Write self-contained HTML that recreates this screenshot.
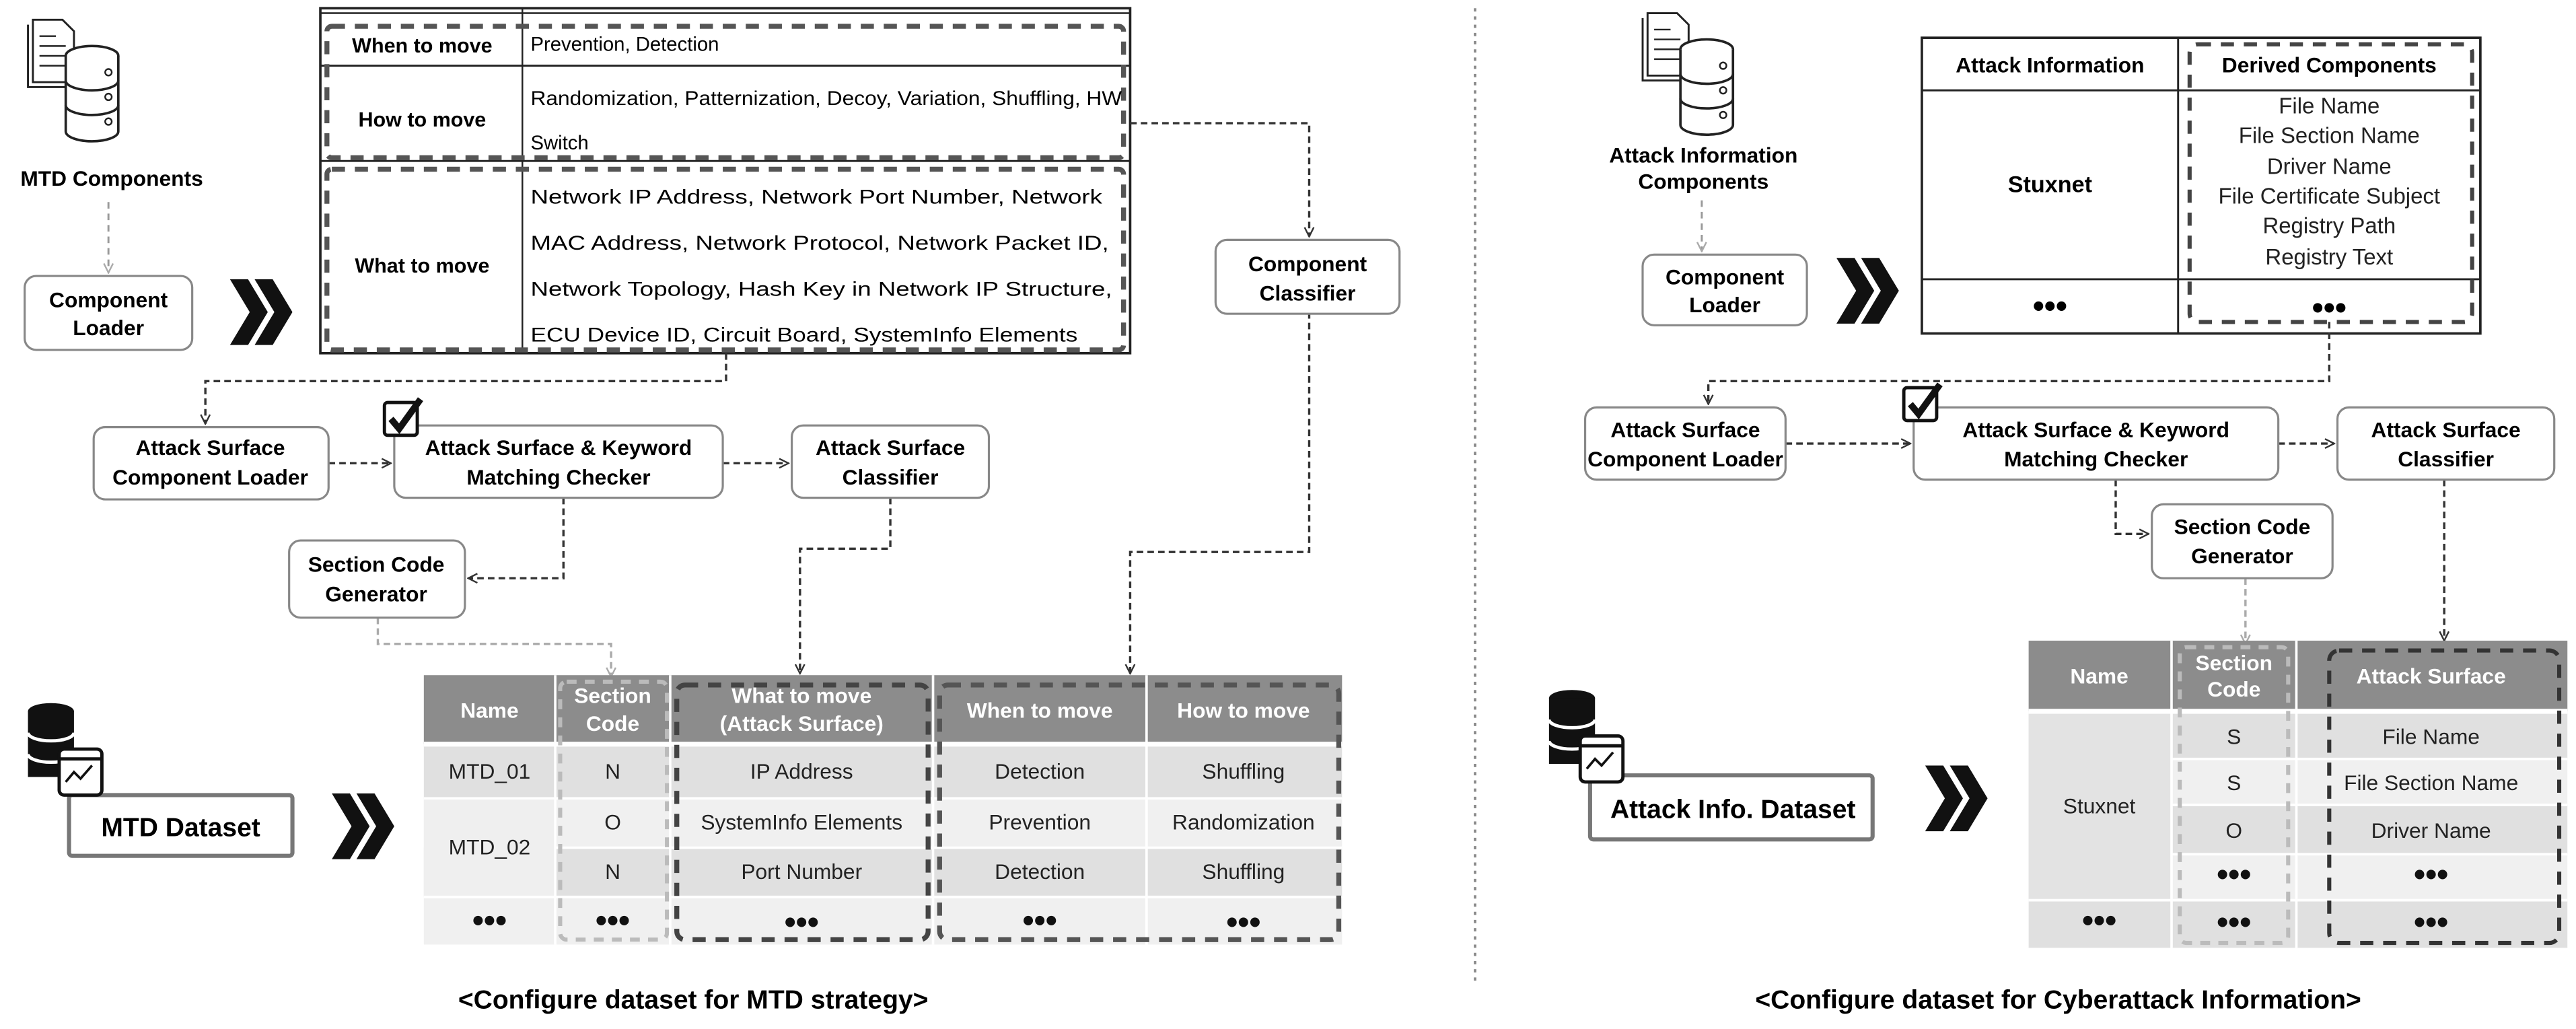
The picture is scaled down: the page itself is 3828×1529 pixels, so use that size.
<!DOCTYPE html>
<html><head><meta charset="utf-8"><style>
html,body{margin:0;padding:0;background:#fff;}
svg{display:block;}
text{font-family:"Liberation Sans",sans-serif;}
.b{font-weight:bold;}
</style></head><body>
<svg width="3828" height="1529" viewBox="0 0 1568.2 626.4" xmlns="http://www.w3.org/2000/svg">
<defs>
<marker id="ar" viewBox="0 0 10 10" refX="9" refY="5" markerWidth="7" markerHeight="7" orient="auto" markerUnits="userSpaceOnUse"><path d="M1,1 L9,5 L1,9" fill="none" stroke="#333" stroke-width="1.4"/></marker>
<marker id="arl" viewBox="0 0 10 10" refX="9" refY="5" markerWidth="7" markerHeight="7" orient="auto" markerUnits="userSpaceOnUse"><path d="M1,1 L9,5 L1,9" fill="none" stroke="#aaa" stroke-width="1.4"/></marker>
<g id="chev"><path d="M0,0 L11,0 L23,20 L11,40 L0,40 L12,20 Z" fill="#111"/><path d="M15,0 L26,0 L38,20 L26,40 L15,40 L27,20 Z" fill="#111"/></g>
<g id="docdb">
<path d="M0,0 L18,0 L25,7 L25,38 L0,38 Z" fill="#fff" stroke="#222" stroke-width="1.2"/>
<path d="M-3,3 L-3,41 L22,41" fill="none" stroke="#222" stroke-width="1.2"/>
<line x1="4" y1="10" x2="14" y2="10" stroke="#222"/><line x1="4" y1="16" x2="20" y2="16" stroke="#222"/><line x1="4" y1="22" x2="20" y2="22" stroke="#222"/><line x1="4" y1="28" x2="20" y2="28" stroke="#222"/>
<ellipse cx="36" cy="22" rx="16" ry="6" fill="#fff" stroke="#222" stroke-width="1.5"/>
<path d="M20,22 L20,68 A16,6 0 0 0 52,68 L52,22" fill="#fff" stroke="#222" stroke-width="1.5"/>
<path d="M20,37 A16,6 0 0 0 52,37 M20,52 A16,6 0 0 0 52,52" fill="none" stroke="#222" stroke-width="1.5"/>
<circle cx="46" cy="32" r="2" fill="none" stroke="#222"/><circle cx="46" cy="47" r="2" fill="none" stroke="#222"/><circle cx="46" cy="62" r="2" fill="none" stroke="#222"/>
</g>
<g id="dsicon">
<ellipse cx="15" cy="5" rx="14" ry="5" fill="#111"/>
<rect x="1" y="5" width="28" height="40" fill="#111"/>
<path d="M1,18 A14,5 0 0 0 29,18 M1,31 A14,5 0 0 0 29,31" fill="none" stroke="#fff" stroke-width="2"/>
</g>
<g id="chk"><rect x="0" y="0" width="20" height="20" rx="2" fill="#fff" stroke="#111" stroke-width="2"/><path d="M4,10 L9,16 L22,-2" fill="none" stroke="#111" stroke-width="4"/></g>
</defs>

<line x1="898" y1="5" x2="898" y2="600" stroke="#888" stroke-width="1.5" stroke-dasharray="2 3"/>

<!-- ============ LEFT ============ -->
<use href="#docdb" x="20" y="12"/>
<text x="68" y="113" font-size="13" class="b" text-anchor="middle">MTD Components</text>
<line x1="66" y1="123" x2="66" y2="166" stroke="#999" stroke-width="1.2" stroke-dasharray="4 3" marker-end="url(#arl)"/>
<rect x="15" y="168" width="102" height="45" rx="7" fill="#fff" stroke="#888" stroke-width="1.3"/>
<text x="66" y="187" font-size="13" class="b" text-anchor="middle">Component</text>
<text x="66" y="204" font-size="13" class="b" text-anchor="middle">Loader</text>
<use href="#chev" x="140" y="170"/>

<rect x="195" y="5" width="493" height="210" fill="#fff" stroke="#222" stroke-width="1.5"/>
<line x1="195" y1="8" x2="688" y2="8" stroke="#222" stroke-width="1"/>
<line x1="318" y1="5" x2="318" y2="215" stroke="#222" stroke-width="1"/>
<line x1="195" y1="40" x2="688" y2="40" stroke="#222" stroke-width="1.2"/>
<line x1="195" y1="98" x2="688" y2="98" stroke="#222" stroke-width="1.2"/>
<rect x="199" y="16" width="485" height="80" rx="3" fill="none" stroke="#555" stroke-width="3" stroke-dasharray="8 6"/>
<rect x="199" y="103" width="485" height="110" rx="3" fill="none" stroke="#555" stroke-width="3" stroke-dasharray="8 6"/>
<text x="257" y="32" font-size="12.5" class="b" text-anchor="middle">When to move</text>
<text x="323" y="31" font-size="12">Prevention, Detection</text>
<text x="257" y="77" font-size="12.5" class="b" text-anchor="middle">How to move</text>
<text x="323" y="64" font-size="12" textLength="360" lengthAdjust="spacingAndGlyphs">Randomization, Patternization, Decoy, Variation, Shuffling, HW</text>
<text x="323" y="91" font-size="12">Switch</text>
<text x="257" y="166" font-size="12.5" class="b" text-anchor="middle">What to move</text>
<text x="323" y="124" font-size="12" textLength="348" lengthAdjust="spacingAndGlyphs">Network IP Address, Network Port Number, Network</text>
<text x="323" y="152" font-size="12" textLength="352" lengthAdjust="spacingAndGlyphs">MAC Address, Network Protocol, Network Packet ID,</text>
<text x="323" y="180" font-size="12" textLength="354" lengthAdjust="spacingAndGlyphs">Network Topology, Hash Key in Network IP Structure,</text>
<text x="323" y="208" font-size="12" textLength="333" lengthAdjust="spacingAndGlyphs">ECU Device ID, Circuit Board, SystemInfo Elements</text>

<g fill="none" stroke="#333" stroke-width="1.4" stroke-dasharray="4 2.5">
<path d="M442,215 L442,232 L125,232 L125,258" marker-end="url(#ar)"/>
<path d="M688,75 L797,75 L797,144" marker-end="url(#ar)"/>
<path d="M797,190 L797,336 L688,336 L688,410" marker-end="url(#ar)"/>
<path d="M200,282 L238,282" marker-end="url(#ar)"/>
<path d="M440,282 L480,282" marker-end="url(#ar)"/>
<path d="M343,303 L343,352 L285,352" marker-end="url(#ar)"/>
<path d="M542,303 L542,334 L487,334 L487,410" marker-end="url(#ar)"/>
</g>
<path d="M230,376 L230,392 L372,392 L372,412" fill="none" stroke="#aaa" stroke-width="1.4" stroke-dasharray="4 2.5" marker-end="url(#arl)"/>

<rect x="740" y="146" width="112" height="45" rx="7" fill="#fff" stroke="#888" stroke-width="1.3"/>
<text x="796" y="165" font-size="13" class="b" text-anchor="middle">Component</text>
<text x="796" y="183" font-size="13" class="b" text-anchor="middle">Classifier</text>

<rect x="57" y="260" width="143" height="44" rx="7" fill="#fff" stroke="#888" stroke-width="1.3"/>
<text x="128" y="277" font-size="13" class="b" text-anchor="middle">Attack Surface</text>
<text x="128" y="295" font-size="13" class="b" text-anchor="middle">Component Loader</text>
<rect x="240" y="259" width="200" height="44" rx="7" fill="#fff" stroke="#888" stroke-width="1.3"/>
<text x="340" y="277" font-size="13" class="b" text-anchor="middle">Attack Surface &amp; Keyword</text>
<text x="340" y="295" font-size="13" class="b" text-anchor="middle">Matching Checker</text>
<use href="#chk" x="234" y="245"/>
<rect x="482" y="259" width="120" height="44" rx="7" fill="#fff" stroke="#888" stroke-width="1.3"/>
<text x="542" y="277" font-size="13" class="b" text-anchor="middle">Attack Surface</text>
<text x="542" y="295" font-size="13" class="b" text-anchor="middle">Classifier</text>
<rect x="176" y="329" width="107" height="47" rx="7" fill="#fff" stroke="#888" stroke-width="1.3"/>
<text x="229" y="348" font-size="13" class="b" text-anchor="middle">Section Code</text>
<text x="229" y="366" font-size="13" class="b" text-anchor="middle">Generator</text>

<rect x="258" y="411" width="559" height="42" fill="#8c8c8c"/>
<rect x="258" y="453" width="559" height="33" fill="#e0e0e0"/>
<rect x="258" y="486" width="559" height="30" fill="#f0f0f0"/>
<rect x="258" y="516" width="559" height="30" fill="#e0e0e0"/>
<rect x="258" y="546" width="559" height="29" fill="#f0f0f0"/>
<rect x="258" y="486" width="80" height="60" fill="#efefef"/>
<g stroke="#fff" stroke-width="1.5"><line x1="338" y1="411" x2="338" y2="575"/><line x1="408" y1="411" x2="408" y2="575"/><line x1="568" y1="411" x2="568" y2="575"/><line x1="698" y1="411" x2="698" y2="575"/>
<line x1="258" y1="453" x2="817" y2="453" stroke-width="3"/><line x1="258" y1="486" x2="817" y2="486"/><line x1="338" y1="516" x2="817" y2="516"/><line x1="258" y1="546" x2="817" y2="546"/></g>
<g fill="#fff" font-size="13" class="b" text-anchor="middle">
<text x="298" y="437">Name</text><text x="373" y="428">Section</text><text x="373" y="445">Code</text>
<text x="488" y="428">What to move</text><text x="488" y="445">(Attack Surface)</text>
<text x="633" y="437">When to move</text><text x="757" y="437">How to move</text></g>
<g font-size="13" text-anchor="middle" fill="#222">
<text x="298" y="474">MTD_01</text><text x="373" y="474">N</text><text x="488" y="474">IP Address</text><text x="633" y="474">Detection</text><text x="757" y="474">Shuffling</text>
<text x="373" y="505">O</text><text x="488" y="505">SystemInfo Elements</text><text x="633" y="505">Prevention</text><text x="757" y="505">Randomization</text>
<text x="298" y="520">MTD_02</text><text x="373" y="535">N</text><text x="488" y="535">Port Number</text><text x="633" y="535">Detection</text><text x="757" y="535">Shuffling</text></g>
<g font-size="20" class="b" text-anchor="middle" fill="#111">
<text x="298" y="567">•••</text><text x="373" y="567">•••</text><text x="488" y="568">•••</text><text x="633" y="567">•••</text><text x="757" y="568">•••</text></g>
<rect x="341" y="415" width="65" height="157" rx="4" fill="none" stroke="#bbb" stroke-width="2.5" stroke-dasharray="6 5"/>
<rect x="412" y="417" width="153" height="155" rx="5" fill="none" stroke="#444" stroke-width="3" stroke-dasharray="8 6"/>
<rect x="572" y="417" width="243" height="155" rx="5" fill="none" stroke="#555" stroke-width="3" stroke-dasharray="8 6"/>

<use href="#dsicon" x="16" y="428"/>
<rect x="42" y="484" width="136" height="37" rx="2" fill="#fff" stroke="#777" stroke-width="2.5"/>
<rect x="36" y="456" width="26" height="28" rx="3" fill="#fff" stroke="#111" stroke-width="2"/>
<line x1="36" y1="462" x2="62" y2="462" stroke="#111" stroke-width="2"/>
<path d="M40,476 L45,470 L49,474 L56,466" fill="none" stroke="#111" stroke-width="1.5"/>
<text x="110" y="509" font-size="16" class="b" text-anchor="middle">MTD Dataset</text>
<use href="#chev" x="202" y="483"/>

<text x="422" y="614" font-size="16" class="b" text-anchor="middle">&lt;Configure dataset for MTD strategy&gt;</text>

<!-- ============ RIGHT ============ -->
<use href="#docdb" x="1003" y="8"/>
<text x="1037" y="99" font-size="13" class="b" text-anchor="middle">Attack Information</text>
<text x="1037" y="115" font-size="13" class="b" text-anchor="middle">Components</text>
<line x1="1036" y1="122" x2="1036" y2="153" stroke="#999" stroke-width="1.2" stroke-dasharray="4 3" marker-end="url(#arl)"/>
<rect x="1000" y="155" width="100" height="43" rx="7" fill="#fff" stroke="#888" stroke-width="1.3"/>
<text x="1050" y="173" font-size="13" class="b" text-anchor="middle">Component</text>
<text x="1050" y="190" font-size="13" class="b" text-anchor="middle">Loader</text>
<use href="#chev" x="1118" y="157"/>

<rect x="1170" y="23" width="340" height="180" fill="#fff" stroke="#222" stroke-width="1.5"/>
<line x1="1326" y1="23" x2="1326" y2="203" stroke="#222" stroke-width="1.2"/>
<line x1="1170" y1="55" x2="1510" y2="55" stroke="#222" stroke-width="1.2"/>
<line x1="1170" y1="170" x2="1510" y2="170" stroke="#222" stroke-width="1.2"/>
<rect x="1333" y="27" width="172" height="169" rx="5" fill="none" stroke="#444" stroke-width="2.5" stroke-dasharray="8 6"/>
<text x="1248" y="44" font-size="13" class="b" text-anchor="middle">Attack Information</text>
<text x="1418" y="44" font-size="13" class="b" text-anchor="middle">Derived Components</text>
<text x="1248" y="117" font-size="14" class="b" text-anchor="middle">Stuxnet</text>
<g font-size="13.5" text-anchor="middle" fill="#222">
<text x="1418" y="69">File Name</text><text x="1418" y="87">File Section Name</text><text x="1418" y="106">Driver Name</text>
<text x="1418" y="124">File Certificate Subject</text><text x="1418" y="142">Registry Path</text><text x="1418" y="161">Registry Text</text></g>
<text x="1248" y="193" font-size="20" class="b" text-anchor="middle">•••</text>
<text x="1418" y="194" font-size="20" class="b" text-anchor="middle">•••</text>

<g fill="none" stroke="#333" stroke-width="1.4" stroke-dasharray="4 2.5">
<path d="M1418,196 L1418,232 L1040,232 L1040,246" marker-end="url(#ar)"/>
<path d="M1087,270 L1163,270" marker-end="url(#ar)"/>
<path d="M1387,270 L1421,270" marker-end="url(#ar)"/>
<path d="M1288,292 L1288,325 L1308,325" marker-end="url(#ar)"/>
<path d="M1488,292 L1488,390" marker-end="url(#ar)"/>
</g>
<path d="M1367,352 L1367,392" fill="none" stroke="#aaa" stroke-width="1.4" stroke-dasharray="4 2.5" marker-end="url(#arl)"/>

<rect x="965" y="248" width="122" height="44" rx="7" fill="#fff" stroke="#888" stroke-width="1.3"/>
<text x="1026" y="266" font-size="13" class="b" text-anchor="middle">Attack Surface</text>
<text x="1026" y="284" font-size="13" class="b" text-anchor="middle">Component Loader</text>
<rect x="1165" y="248" width="222" height="44" rx="7" fill="#fff" stroke="#888" stroke-width="1.3"/>
<text x="1276" y="266" font-size="13" class="b" text-anchor="middle">Attack Surface &amp; Keyword</text>
<text x="1276" y="284" font-size="13" class="b" text-anchor="middle">Matching Checker</text>
<use href="#chk" x="1159" y="236"/>
<rect x="1423" y="248" width="132" height="44" rx="7" fill="#fff" stroke="#888" stroke-width="1.3"/>
<text x="1489" y="266" font-size="13" class="b" text-anchor="middle">Attack Surface</text>
<text x="1489" y="284" font-size="13" class="b" text-anchor="middle">Classifier</text>
<rect x="1310" y="307" width="110" height="45" rx="7" fill="#fff" stroke="#888" stroke-width="1.3"/>
<text x="1365" y="325" font-size="13" class="b" text-anchor="middle">Section Code</text>
<text x="1365" y="343" font-size="13" class="b" text-anchor="middle">Generator</text>

<rect x="1235" y="390" width="328" height="43" fill="#8c8c8c"/>
<rect x="1235" y="433" width="328" height="29" fill="#e0e0e0"/>
<rect x="1235" y="462" width="328" height="28" fill="#f0f0f0"/>
<rect x="1235" y="490" width="328" height="30" fill="#e0e0e0"/>
<rect x="1235" y="520" width="328" height="28" fill="#f0f0f0"/>
<rect x="1235" y="548" width="328" height="29" fill="#e0e0e0"/>
<rect x="1235" y="433" width="87" height="115" fill="#e3e3e3"/>
<g stroke="#fff" stroke-width="1.5"><line x1="1322" y1="390" x2="1322" y2="577"/><line x1="1398" y1="390" x2="1398" y2="577"/>
<line x1="1235" y1="433" x2="1563" y2="433" stroke-width="3"/><line x1="1322" y1="462" x2="1563" y2="462"/><line x1="1322" y1="490" x2="1563" y2="490"/><line x1="1322" y1="520" x2="1563" y2="520"/><line x1="1235" y1="548" x2="1563" y2="548"/></g>
<g fill="#fff" font-size="13" class="b" text-anchor="middle"><text x="1278" y="416">Name</text><text x="1360" y="408">Section</text><text x="1360" y="424">Code</text><text x="1480" y="416">Attack Surface</text></g>
<g font-size="13" text-anchor="middle" fill="#222">
<text x="1278" y="495">Stuxnet</text>
<text x="1360" y="453">S</text><text x="1480" y="453">File Name</text>
<text x="1360" y="481">S</text><text x="1480" y="481">File Section Name</text>
<text x="1360" y="510">O</text><text x="1480" y="510">Driver Name</text></g>
<g font-size="20" class="b" text-anchor="middle" fill="#111">
<text x="1360" y="539">•••</text><text x="1480" y="539">•••</text>
<text x="1278" y="567">•••</text><text x="1360" y="568">•••</text><text x="1480" y="568">•••</text></g>
<rect x="1327" y="394" width="66" height="180" rx="4" fill="none" stroke="#bbb" stroke-width="2.5" stroke-dasharray="6 5"/>
<rect x="1418" y="396" width="140" height="178" rx="6" fill="none" stroke="#333" stroke-width="2.5" stroke-dasharray="8 6"/>

<use href="#dsicon" x="942" y="420"/>
<rect x="968" y="472" width="172" height="39" rx="2" fill="#fff" stroke="#777" stroke-width="2.5"/>
<rect x="962" y="448" width="26" height="28" rx="3" fill="#fff" stroke="#111" stroke-width="2"/>
<line x1="962" y1="454" x2="988" y2="454" stroke="#111" stroke-width="2"/>
<path d="M966,468 L971,462 L975,466 L982,458" fill="none" stroke="#111" stroke-width="1.5"/>
<text x="1055" y="498" font-size="16" class="b" text-anchor="middle">Attack Info. Dataset</text>
<use href="#chev" x="1172" y="466"/>

<text x="1253" y="614" font-size="16" class="b" text-anchor="middle">&lt;Configure dataset for Cyberattack Information&gt;</text>
</svg>
</body></html>
